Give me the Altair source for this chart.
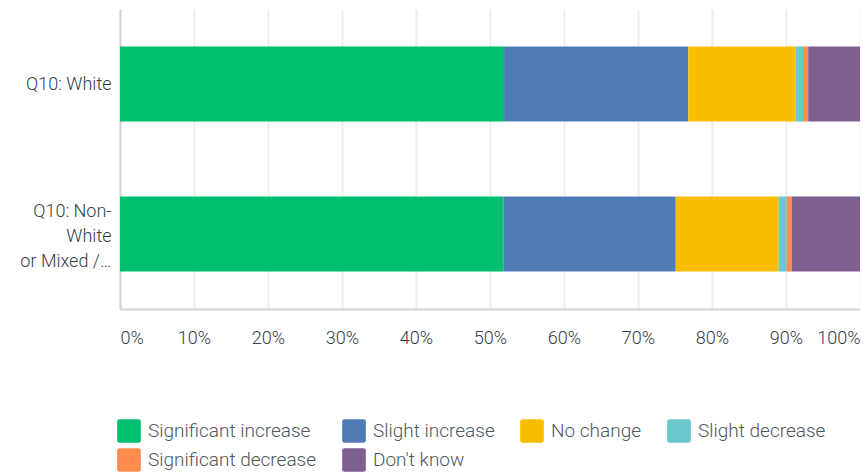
import altair as alt
import pandas as pd

groups = ["Q10: White", "Q10: Non-White or Mixed /..."]
responses = ["Significant increase", "Slight increase", "No change",
             "Slight decrease", "Significant decrease", "Don't know"]
colors = ["#00bf6f", "#507cb6", "#f9be00", "#6bc8cd", "#ff8b4f", "#7f5f90"]
white_pct = [51.9, 24.9, 14.5, 1.0, 0.7, 7.0]
nonwhite_pct = [51.8, 23.3, 13.9, 1.1, 0.7, 9.2]

rows = []
for g, vals in zip(groups, [white_pct, nonwhite_pct]):
    for i, (r, v) in enumerate(zip(responses, vals)):
        rows.append({"group": g, "response": r, "value": v, "order": i})
df = pd.DataFrame(rows)

FONT = "Roboto"
TEXT = "#333e48"
LEGTEXT = "#4d5760"

rounded = "M-0.8,-1H0.8Q1,-1,1,-0.8V0.8Q1,1,0.8,1H-0.8Q-1,1,-1,0.8V-0.8Q-1,-1,-0.8,-1Z"

chart = alt.Chart(df).mark_bar(strokeWidth=0).encode(
    y=alt.Y("group:N", sort=groups, title=None,
            scale=alt.Scale(paddingInner=0.5, paddingOuter=0.25),
            axis=alt.Axis(
                labelExpr="datum.value == 'Q10: White' ? 'Q10: White' : ['Q10: Non-', 'White', 'or Mixed /…']",
                labelOffset={"condition": {"test": "datum.value == 'Q10: White'", "value": 1},
                             "value": -22},
                labelFont=FONT, labelFontSize=18, labelFontWeight=300,
                labelColor=TEXT,
                labelPadding=9, ticks=False, labelLimit=200,
                labelLineHeight=25,
                domainColor="#d3d3d3", domainWidth=2, grid=False)),
    x=alt.X("value:Q", stack="normalize", title=None,
            scale=alt.Scale(domain=[0, 1], nice=False),
            axis=alt.Axis(values=[0, 0.1, 0.2, 0.3, 0.4, 0.5, 0.6, 0.7, 0.8, 0.9, 1.0],
                          format=".0%", labelFlush=True,
                          labelFont=FONT, labelFontSize=18, labelFontWeight=300,
                          labelColor=TEXT,
                          labelPadding=20, ticks=False,
                          grid=True, gridColor="#ededed", gridWidth=2,
                          domainColor="#d3d3d3", domainWidth=2)),
    color=alt.Color("response:N", sort=responses,
                    scale=alt.Scale(domain=responses, range=colors),
                    legend=alt.Legend(
                        title=None, orient="none", legendX=-3, legendY=410,
                        direction="horizontal", columns=4, gridAlign="none",
                        symbolType=rounded, symbolSize=560, symbolStrokeWidth=0,
                        symbolOpacity=1,
                        labelFont=FONT, labelFontSize=19, labelFontWeight=300,
                        labelColor=LEGTEXT,
                        labelOffset=7, columnPadding=25, rowPadding=5,
                        labelLimit=300)),
    order=alt.Order("order:Q", sort="ascending"),
).properties(
    width=740, height=300,
    autosize="none",
    padding={"left": 112, "top": 1, "right": 0, "bottom": 164},
).configure_view(stroke=None)

chart.save("out.html", embed_options={"renderer": "svg", "actions": False})
